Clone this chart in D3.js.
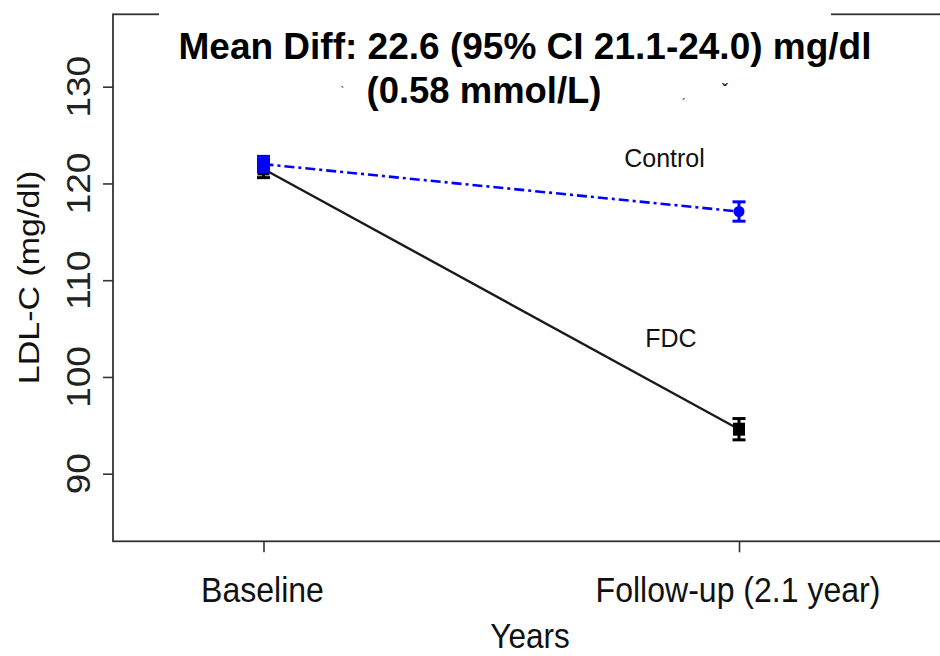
<!DOCTYPE html>
<html><head><meta charset="utf-8">
<script src="https://cdn.jsdelivr.net/npm/d3@7"></script>
<style>body{margin:0;background:#fff}svg{display:block}</style></head>
<body>
<svg id="c" width="940" height="656"></svg>
<script>
// ---- data ----
const categories = ["Baseline", "Follow-up (2.1 year)"];
const controlMean = [122.0, 117.1];
const controlErr  = [0.8, 1.0];
const fdcMean     = [121.5, 94.6];
const fdcErr      = [0.9, 1.1];
const yTicks      = [90, 100, 110, 120, 130];
const seriesNames = ["Control", "FDC"];
const titleLines  = ["Mean Diff: 22.6 (95% CI 21.1-24.0) mg/dl", "(0.58 mmol/L)"];
const yTitle = "LDL-C (mg/dl)";
const xTitle = "Years";

const FONT = "'Liberation Sans', Arial, Helvetica, sans-serif";
const svg = d3.select("#c");

const box = {left: 113, top: 14.3, right: 947, bottom: 541.3};
const x = d3.scaleLinear().domain([0, 1]).range([263.5, 739]);
const y = d3.scaleLinear().domain([90, 130]).range([473.7, 86.7]);

// plot frame
svg.append("rect")
  .attr("x", box.left).attr("y", box.top)
  .attr("width", box.right - box.left).attr("height", box.bottom - box.top)
  .attr("fill", "none").attr("stroke", "#333").attr("stroke-width", 1.8);

// y axis ticks
const gy = svg.append("g").attr("transform", `translate(${box.left},0)`)
  .call(d3.axisLeft(y).tickValues(yTicks).tickSize(10).tickFormat(""));
gy.select(".domain").remove();
gy.selectAll(".tick line").attr("stroke", "#333").attr("stroke-width", 1.6);

svg.append("g").selectAll("text").data(yTicks).join("text")
  .attr("transform", d => `translate(89.5,${y(d)}) scale(0.88,1) rotate(-90)`)
  .attr("text-anchor", "middle")
  .attr("font-family", FONT).attr("font-size", 37).attr("fill", "#222")
  .text(d => d);

// x axis ticks
const gx = svg.append("g").attr("transform", `translate(0,${box.bottom})`)
  .call(d3.axisBottom(x).tickValues([0, 1]).tickSize(11).tickFormat(""));
gx.select(".domain").remove();
gx.selectAll(".tick line").attr("stroke", "#333").attr("stroke-width", 1.6);

svg.append("g").selectAll("text").data(categories).join("text")
  .attr("transform", (d, i) => `translate(${x(i) - 1},602.3) scale(0.89,1)`)
  .attr("text-anchor", "middle")
  .attr("font-family", FONT).attr("font-size", 36).attr("fill", "#111")
  .text(d => d);

// axis titles
svg.append("text")
  .attr("transform", `translate(530,647.5) scale(0.9,1)`)
  .attr("text-anchor", "middle")
  .attr("font-family", FONT).attr("font-size", 35).attr("fill", "#111")
  .text(xTitle);
svg.append("text")
  .attr("transform", `translate(38.5,277.5) scale(0.88,1) rotate(-90)`)
  .attr("text-anchor", "middle")
  .attr("font-family", FONT).attr("font-size", 34).attr("fill", "#111")
  .text(yTitle);

// ---- series ----
const idx = [0, 1];
const line = arr => d3.line().x(i => x(i)).y(i => y(arr[i]));

// FDC (black, solid, squares)
svg.append("path").datum(idx)
  .attr("d", line(fdcMean))
  .attr("fill", "none").attr("stroke", "#1a1a1a").attr("stroke-width", 2.4);

function errorBars(mean, err, color) {
  const g = svg.append("g").attr("stroke", color).attr("stroke-width", 3);
  g.selectAll("line.v").data(idx).join("line").attr("class", "v")
    .attr("x1", i => x(i)).attr("x2", i => x(i))
    .attr("y1", i => y(mean[i] - err[i])).attr("y2", i => y(mean[i] + err[i]));
  g.selectAll("line.t").data(idx).join("line").attr("class", "t")
    .attr("x1", i => x(i) - 6.5).attr("x2", i => x(i) + 6.5)
    .attr("y1", i => y(mean[i] + err[i])).attr("y2", i => y(mean[i] + err[i]));
  g.selectAll("line.b").data(idx).join("line").attr("class", "b")
    .attr("x1", i => x(i) - 6.5).attr("x2", i => x(i) + 6.5)
    .attr("y1", i => y(mean[i] - err[i])).attr("y2", i => y(mean[i] - err[i]));
}

errorBars(fdcMean, fdcErr, "#000");
svg.append("g").selectAll("rect").data(idx).join("rect")
  .attr("x", i => x(i) - 6).attr("y", i => y(fdcMean[i]) - 6.5)
  .attr("width", 12).attr("height", 13).attr("fill", "#000");

// Control (blue, dot-dash, circles)
svg.append("path").datum(idx)
  .attr("d", line(controlMean))
  .attr("fill", "none").attr("stroke", "#0000ff").attr("stroke-width", 2.6)
  .attr("stroke-dasharray", "10,4,3,4");
errorBars(controlMean, controlErr, "#0000ff");
svg.append("g").selectAll("circle").data(idx).join("circle")
  .attr("cx", i => x(i)).attr("cy", i => y(controlMean[i]))
  .attr("r", i => i === 0 ? 6.5 : 5.5).attr("fill", "#0000ff");
svg.append("rect")
  .attr("x", x(0) - 6.5).attr("y", y(controlMean[0]) - 6.5)
  .attr("width", 13).attr("height", 13).attr("fill", "#0000ff");

// series labels
svg.append("text").attr("x", 664.5).attr("y", 166.5)
  .attr("text-anchor", "middle").attr("font-family", FONT).attr("font-size", 25).attr("fill", "#111")
  .text(seriesNames[0]);
svg.append("text").attr("x", 671).attr("y", 347)
  .attr("text-anchor", "middle").attr("font-family", FONT).attr("font-size", 25).attr("fill", "#111")
  .text(seriesNames[1]);

// ---- title block (white box over frame) ----
svg.append("rect").attr("x", 159).attr("y", 6).attr("width", 672).attr("height", 108).attr("fill", "#fff");
svg.append("text").attr("x", 525).attr("y", 59.3)
  .attr("text-anchor", "middle").attr("font-family", FONT).attr("font-weight", "bold")
  .attr("font-size", 36).attr("fill", "#000")
  .attr("textLength", 693).attr("lengthAdjust", "spacingAndGlyphs")
  .text(titleLines[0]);
svg.append("text").attr("x", 484).attr("y", 103)
  .attr("text-anchor", "middle").attr("font-family", FONT).attr("font-weight", "bold")
  .attr("font-size", 36).attr("fill", "#000")
  .attr("textLength", 235).attr("lengthAdjust", "spacingAndGlyphs")
  .text(titleLines[1]);
// small leftover marks near the title
svg.append("text").attr("x", 340).attr("y", 97).attr("font-family", FONT).attr("font-size", 14).attr("fill", "#555").text("ˋ");
svg.append("text").attr("x", 681).attr("y", 97).attr("font-family", FONT).attr("font-size", 14).attr("fill", "#555").text("ˏ");
svg.append("text").attr("x", 722).attr("y", 96).attr("font-family", FONT).attr("font-size", 16).attr("font-weight", "bold").attr("fill", "#111").text("ˇ");
</script>
</body></html>
